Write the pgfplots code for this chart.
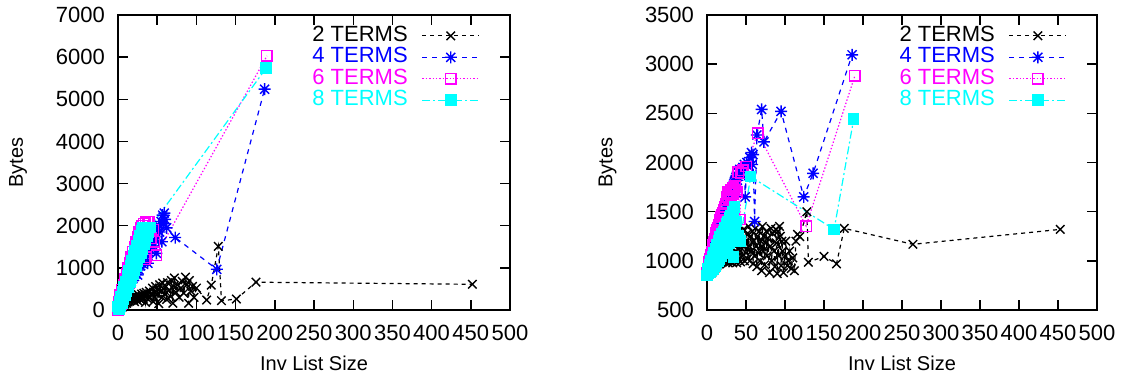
\documentclass[border=0pt]{standalone}
\usepackage{pgfplots}
\pgfplotsset{compat=1.18}
\usepackage{fontspec}
\setmainfont{Liberation Sans}
\definecolor{gpblue}{RGB}{0,0,255}
\definecolor{gpmag}{RGB}{255,0,255}
\definecolor{gpcyan}{RGB}{0,255,255}
\pgfdeclareplotmark{gpstar}{%
  \pgfpathmoveto{\pgfqpoint{-\pgfplotmarksize}{0pt}}\pgfpathlineto{\pgfqpoint{\pgfplotmarksize}{0pt}}%
  \pgfpathmoveto{\pgfqpoint{0pt}{-\pgfplotmarksize}}\pgfpathlineto{\pgfqpoint{0pt}{\pgfplotmarksize}}%
  \pgfpathmoveto{\pgfqpoint{-.75\pgfplotmarksize}{-.75\pgfplotmarksize}}\pgfpathlineto{\pgfqpoint{.75\pgfplotmarksize}{.75\pgfplotmarksize}}%
  \pgfpathmoveto{\pgfqpoint{-.75\pgfplotmarksize}{.75\pgfplotmarksize}}\pgfpathlineto{\pgfqpoint{.75\pgfplotmarksize}{-.75\pgfplotmarksize}}%
  \pgfusepathqstroke}
\newcommand{\gpfont}{\fontsize{11}{12}\selectfont}
\pgfplotsset{
  gp/.style={
    scale only axis, height=147.5pt, anchor=south west,
    xmin=0, xmax=500, xtick={0,50,...,500},
    tick align=inside, tick pos=both, major tick length=5pt,
    axis line style={line width=0.8pt},
    every tick/.style={black, line width=0.7pt},
    /pgf/number format/assume math mode=true,
    /pgf/number format/1000 sep={},
    tick label style={font=\gpfont},
    label style={font=\gpfont},
    xticklabel style={yshift=-4pt},
    yticklabel style={xshift=-3pt},
    xlabel={Inv List Size}, ylabel={Bytes},
    every axis x label/.style={at={(axis description cs:0.5,-0.181)}, anchor=center},
    every axis y label/.style={at={(axis description cs:-0.255,0.5)}, anchor=center, rotate=90},
    legend plot pos=right, legend cell align=right,
    legend style={draw=none, fill=none, at={(0.923,0.966)}, anchor=north east,
      font=\gpfont, inner sep=0pt, outer sep=0pt, column sep=7pt,
      nodes={inner sep=0pt, text height=8pt, text depth=2.75pt}},
    legend image code/.code={\draw[#1, mark=none] (0cm,0cm) -- (1cm,0cm);
       \draw[#1, solid] plot[only marks] coordinates {(0.5cm,0cm)};},
    clip=false,
  },
  s2/.style={black, line width=0.6pt, dash pattern=on 2pt off 2pt, mark=x, mark size=3pt, mark options={solid, line width=0.7pt}},
  s4/.style={gpblue, line width=0.6pt, dash pattern=on 2.5pt off 2.5pt, mark=gpstar, mark size=3pt, mark options={solid, line width=0.7pt}},
  s6/.style={gpmag, line width=0.6pt, dash pattern=on 0.7pt off 1pt, mark=square, mark size=2.6pt, mark options={solid, line width=0.7pt}},
  s8/.style={gpcyan, line width=0.6pt, dash pattern=on 4pt off 1.5pt on 1pt off 1.5pt, mark=square*, mark size=2.6pt, mark options={solid, fill=gpcyan}},
}
\begin{document}
\begin{tikzpicture}
\path[use as bounding box] (0,0) rectangle (562pt,190.5pt);
% ---------------- left ----------------
\begin{axis}[gp, at={(59pt,35.5pt)}, width=196pt, ymin=0, ymax=7000, ytick={0,1000,...,7000}]
\addplot[s2] coordinates {
(5,60)(6,120)(7,90)(8,180)(9,140)(10,220)(11,160)(12,250)(13,190)(14,280)(15,210)(16,300)(17,230)(18,320)(19,250)(20,280)(21,200)(22,340)(23,260)(24,300)(25,220)(26,360)(27,280)(28,320)(29,240)(30,380)(31,300)(32,260)(33,400)(34,320)(35,180)(36,420)(37,340)(38,260)(40,450)(41,300)(42,380)(44,520)(45,200)(46,420)(47,300)(48,560)(50,380)(51,480)(52,150)(53,600)(55,440)(56,300)(57,640)(58,500)(60,380)(61,560)(62,250)(63,650)(65,470)(67,320)(68,700)(70,160)(71,560)(72,760)(74,420)(76,600)(78,300)(80,520)(82,680)(84,400)(86,780)(88,600)(90,160)(91,700)(93,450)(95,560)(97,300)(100,520)(113,237)(119,590)(128,1510)(132,220)(151,260)(176,660)(452,610)
};
\addlegendentry{\textcolor{black}{2 TERMS}}
\addplot[s4] coordinates {
(1,40)(3,120)(5,200)(7,280)(9,360)(11,440)(13,520)(15,600)(17,680)(19,740)(21,800)(23,850)(25,830)(27,950)(29,1050)(31,1100)(33,1150)(35,1250)(37,1300)(38,1110)(40,1450)(42,1600)(44,1500)(46,1700)(48,1650)(49,1345)(50,1900)(52,2000)(53,1850)(55,2100)(56,1620)(57,2250)(58,2050)(59,2300)(60,2150)(62,1950)(73,1720)(126,966)(187,5240)
};
\addlegendentry{\textcolor{gpblue}{4 TERMS}}
\addplot[s6] coordinates {
(0,0)(1,200)(2,80)(3,350)(4,150)(5,480)(6,250)(7,600)(8,350)(9,730)(10,450)(11,860)(12,550)(13,990)(14,650)(15,1120)(16,760)(17,1250)(18,870)(19,1380)(20,980)(21,1500)(22,1090)(23,1620)(24,1200)(25,1740)(26,1300)(27,1850)(28,1400)(29,1950)(30,1500)(31,2000)(32,1600)(33,2050)(34,1200)(35,2080)(36,1250)(38,2100)(40,2090)(42,1700)(45,1900)(46,1620)(49,1305)(190,6030)
};
\addlegendentry{\textcolor{gpmag}{6 TERMS}}
\addplot[s8] coordinates {
(0,80)(1,30)(2,200)(3,100)(4,320)(5,150)(6,440)(7,250)(8,560)(9,350)(10,680)(11,450)(12,800)(13,550)(14,920)(15,650)(16,1040)(17,750)(18,1160)(19,850)(20,1280)(21,950)(22,1400)(23,1050)(24,1520)(25,1150)(26,1640)(27,1250)(28,1760)(29,1350)(30,1880)(31,1450)(32,1950)(33,1550)(34,1950)(35,1650)(36,1950)(37,1750)(38,1950)(39,1850)(41,1960)(189,5740)
};
\addlegendentry{\textcolor{gpcyan}{8 TERMS}}
\end{axis}
% ---------------- right ----------------
\begin{axis}[gp, at={(353.5pt,35.5pt)}, width=195pt, ymin=500, ymax=3500, ytick={500,1000,...,3500}]
\addplot[s2] coordinates {
(3,870)(5,900)(6,880)(7,930)(8,900)(9,950)(10,920)(11,970)(12,940)(13,990)(14,960)(15,1010)(16,970)(17,1000)(18,980)(19,1030)(20,990)(21,1050)(22,1000)(23,1080)(24,990)(25,1010)(26,1100)(27,980)(28,1020)(29,1150)(30,990)(31,1040)(32,1200)(33,980)(34,1060)(35,1000)(36,1250)(37,1100)(38,980)(39,1180)(40,1020)(41,1300)(42,1100)(43,990)(44,1220)(45,1050)(46,1150)(47,1320)(48,1000)(49,1180)(50,1080)(51,1270)(52,1020)(53,1350)(54,1150)(55,1000)(56,1250)(57,1100)(58,1300)(59,970)(60,1200)(61,1050)(62,1330)(63,1150)(64,940)(65,1250)(66,1080)(67,1300)(68,1000)(69,1200)(70,900)(71,1350)(72,1100)(73,1250)(74,960)(75,1180)(76,1300)(77,1050)(78,1230)(80,880)(81,1150)(82,1330)(83,1000)(84,1280)(86,1100)(87,940)(88,1320)(89,1180)(90,870)(91,1300)(92,1050)(93,1350)(94,1250)(95,950)(96,1200)(97,1100)(98,880)(100,1050)(101,1200)(103,950)(104,1000)(106,1100)(108,920)(110,1030)(112,900)(114,1200)(116,1270)(119,1246)(128,1500)(130,985)(150,1045)(166,970)(176,1330)(264,1168)(453,1320)
};
\addlegendentry{\textcolor{black}{2 TERMS}}
\addplot[s4] coordinates {
(1,900)(2,930)(3,960)(4,990)(5,1020)(6,1060)(7,1090)(8,1120)(9,1150)(10,1180)(11,1210)(12,1230)(13,1260)(14,1290)(15,1310)(16,1340)(17,1370)(18,1390)(19,1420)(20,1440)(21,1380)(22,1480)(23,1500)(24,1530)(25,1560)(26,1580)(27,1600)(28,1640)(29,1660)(30,1700)(31,1720)(32,1750)(33,1700)(34,1780)(35,1800)(36,1820)(37,1850)(38,1870)(39,1820)(40,1900)(42,1930)(44,1900)(46,1950)(48,1980)(49,1650)(51,2000)(53,1960)(55,2050)(57,2100)(58,1980)(59,2080)(61,1400)(64,2280)(70,2540)(73,2210)(95,2520)(124,1650)(136,1890)(186,3095)
};
\addlegendentry{\textcolor{gpblue}{4 TERMS}}
\addplot[s6] coordinates {
(0,880)(1,920)(2,950)(3,990)(4,1020)(5,1060)(6,1090)(7,1120)(8,1160)(9,1190)(10,1220)(11,1250)(12,1280)(13,1310)(14,1340)(15,1370)(16,1400)(17,1420)(18,1450)(19,1470)(20,1490)(21,1480)(22,1520)(23,1550)(24,1580)(25,1620)(26,1650)(27,1700)(28,1640)(29,1680)(30,1720)(31,1660)(32,1700)(33,1740)(34,1680)(35,1720)(36,1760)(38,1700)(40,1900)(42,1420)(44,1890)(46,1920)(50,1960)(65,2300)(127,1354)(189.5,2880)
};
\addlegendentry{\textcolor{gpmag}{6 TERMS}}
\addplot[s8] coordinates {
(0,850)(1,920)(2,870)(3,960)(4,880)(5,1000)(6,900)(7,1040)(8,920)(9,1080)(10,950)(11,1120)(12,980)(13,1160)(14,1000)(15,1200)(16,1020)(17,1240)(18,1050)(19,1280)(20,1080)(21,1300)(22,1100)(23,1340)(24,1120)(25,1380)(26,1150)(27,1400)(28,1180)(29,1440)(30,1220)(31,1460)(32,1250)(33,1500)(34,1040)(35,1550)(36,1300)(38,1400)(40,1250)(42,1200)(56,1856)(163,1320)(188,2440)
};
\addlegendentry{\textcolor{gpcyan}{8 TERMS}}
\end{axis}
\end{tikzpicture}
\end{document}
